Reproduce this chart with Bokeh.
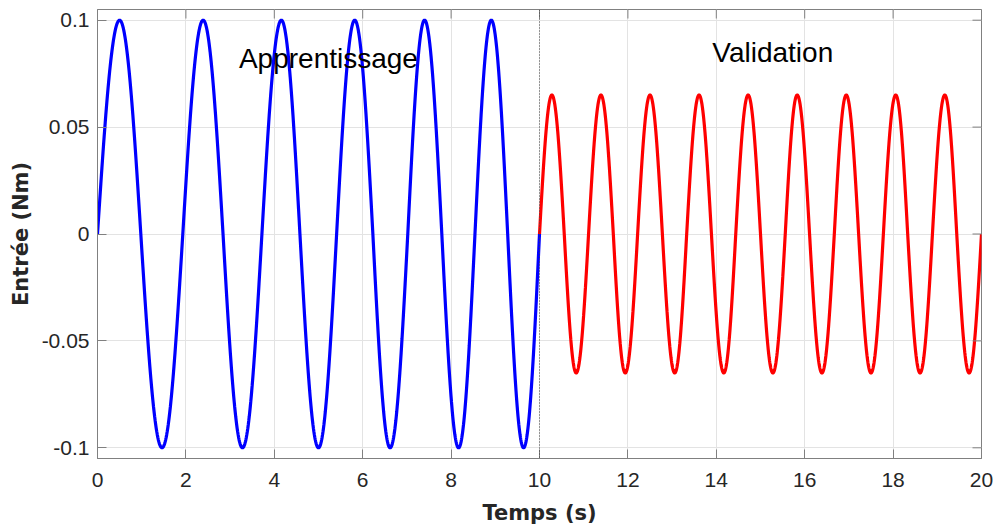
import numpy as np
from bokeh.plotting import figure
from bokeh.models import Range1d, FixedTicker, Span, Label
from bokeh.embed import file_html
from bokeh.resources import INLINE

# ---- data (quarter-cycle nodes: zero, peak, zero, trough, ...) ----
train_t = [0.00, 0.50, 0.98, 1.46, 1.93, 2.39, 2.84, 3.28, 3.72, 4.16, 4.58, 5.00,
           5.41, 5.82, 6.23, 6.62, 7.02, 7.40, 7.79, 8.17, 8.54, 8.91, 9.28, 9.64, 10.00]
train_v = [0, 0.1, 0, -0.1, 0, 0.1, 0, -0.1, 0, 0.1, 0, -0.1,
           0, 0.1, 0, -0.1, 0, 0.1, 0, -0.1, 0, 0.1, 0, -0.1, 0]

valid_t = [10.00, 10.28, 10.56, 10.83, 11.11, 11.39, 11.67, 11.94, 12.22, 12.50,
           12.78, 13.06, 13.33, 13.61, 13.89, 14.17, 14.44, 14.72, 15.00, 15.28,
           15.56, 15.83, 16.11, 16.39, 16.67, 16.94, 17.22, 17.50, 17.78, 18.06,
           18.33, 18.61, 18.89, 19.17, 19.44, 19.72, 20.00]
valid_v = [0, 0.065, 0, -0.065, 0, 0.065, 0, -0.065, 0, 0.065, 0, -0.065,
           0, 0.065, 0, -0.065, 0, 0.065, 0, -0.065, 0, 0.065, 0, -0.065,
           0, 0.065, 0, -0.065, 0, 0.065, 0, -0.065, 0, 0.065, 0, -0.065, 0]

x_ticks = [0, 2, 4, 6, 8, 10, 12, 14, 16, 18, 20]
y_ticks = [-0.1, -0.05, 0, 0.05, 0.1]
y_tick_labels = ["-0.1", "-0.05", "0", "0.05", "0.1"]

annotations = ["Apprentissage", "Validation"]
annot_x = [3.2, 13.91]
annot_y = [0.0822, 0.0847]

X_MIN, X_MAX = 0, 20
Y_MIN, Y_MAX = -0.105, 0.105


def smooth_wave(times, vals, n=40):
    """Join successive quarter-cycle nodes with quarter sine arcs."""
    xs, ys = [], []
    for i in range(len(times) - 1):
        t0, t1 = times[i], times[i + 1]
        v0, v1 = vals[i], vals[i + 1]
        s = np.linspace(0, 1, n, endpoint=False)
        if v0 == 0:
            y = v1 * np.sin(np.pi / 2 * s)
        else:
            y = v0 * np.cos(np.pi / 2 * s)
        xs.extend(t0 + (t1 - t0) * s)
        ys.extend(y)
    xs.append(times[-1])
    ys.append(vals[-1])
    return xs, ys


tx, ty = smooth_wave(train_t, train_v)
vx, vy = smooth_wave(valid_t, valid_v)

TXT = "#262626"
AX = "#808080"
GRID = "#e3e3e3"

p = figure(width=995, height=529, output_backend="svg", toolbar_location=None,
           x_range=Range1d(X_MIN, X_MAX), y_range=Range1d(Y_MIN, Y_MAX),
           min_border_left=97, min_border_right=14, min_border_top=9, min_border_bottom=71)
p.outline_line_color = AX
p.outline_line_width = 1
p.background_fill_color = "white"
p.border_fill_color = "white"

p.xaxis.ticker = FixedTicker(ticks=x_ticks)
p.yaxis.ticker = FixedTicker(ticks=y_ticks)
p.yaxis.major_label_overrides = {t: l for t, l in zip(y_ticks, y_tick_labels)}
p.xaxis.major_label_overrides = {t: str(t) for t in x_ticks}

for ax in (p.xaxis[0], p.yaxis[0]):
    ax.axis_line_color = AX
    ax.major_tick_line_color = AX
    ax.major_tick_in = 9
    ax.major_tick_out = 0
    ax.minor_tick_line_color = None
    ax.major_label_text_font = "Liberation Sans"
    ax.major_label_text_font_size = "21px"
    ax.major_label_text_color = TXT
    ax.axis_label_text_font = "DejaVu Sans"
    ax.axis_label_text_font_style = "bold"
    ax.axis_label_text_font_size = "21px"
    ax.axis_label_text_color = TXT

p.xaxis.axis_label = "Temps (s)"
p.yaxis.axis_label = "Entrée (Nm)"
p.xaxis.major_label_standoff = 14
p.yaxis.major_label_standoff = 8
p.xaxis.axis_label_standoff = 11
p.yaxis.axis_label_standoff = 6

p.xgrid.grid_line_color = GRID
p.ygrid.grid_line_color = GRID
p.xgrid.ticker = FixedTicker(ticks=x_ticks)
p.ygrid.ticker = FixedTicker(ticks=y_ticks)

p.line(tx, ty, line_color="#0000ff", line_width=3.2)
p.line(vx, vy, line_color="#ff0000", line_width=3.2)

# box ticks on the top and right edges (half of each mark is clipped by the frame)
p.scatter(x_ticks, [Y_MAX] * len(x_ticks), marker="dash", angle=np.pi / 2,
          size=18, line_color=AX, line_width=1)
p.scatter([X_MAX] * len(y_ticks), y_ticks, marker="dash",
          size=18, line_color=AX, line_width=1)

p.add_layout(Span(location=10, dimension="height", line_color="#444444",
                  line_width=1, line_dash="1 2"))

for txt, x, y in zip(annotations, annot_x, annot_y):
    p.add_layout(Label(x=x, y=y, text=txt, text_font="Liberation Sans",
                       text_font_size="28px", text_color="black",
                       text_baseline="alphabetic"))

open("out.html", "w").write(file_html(p, INLINE))
